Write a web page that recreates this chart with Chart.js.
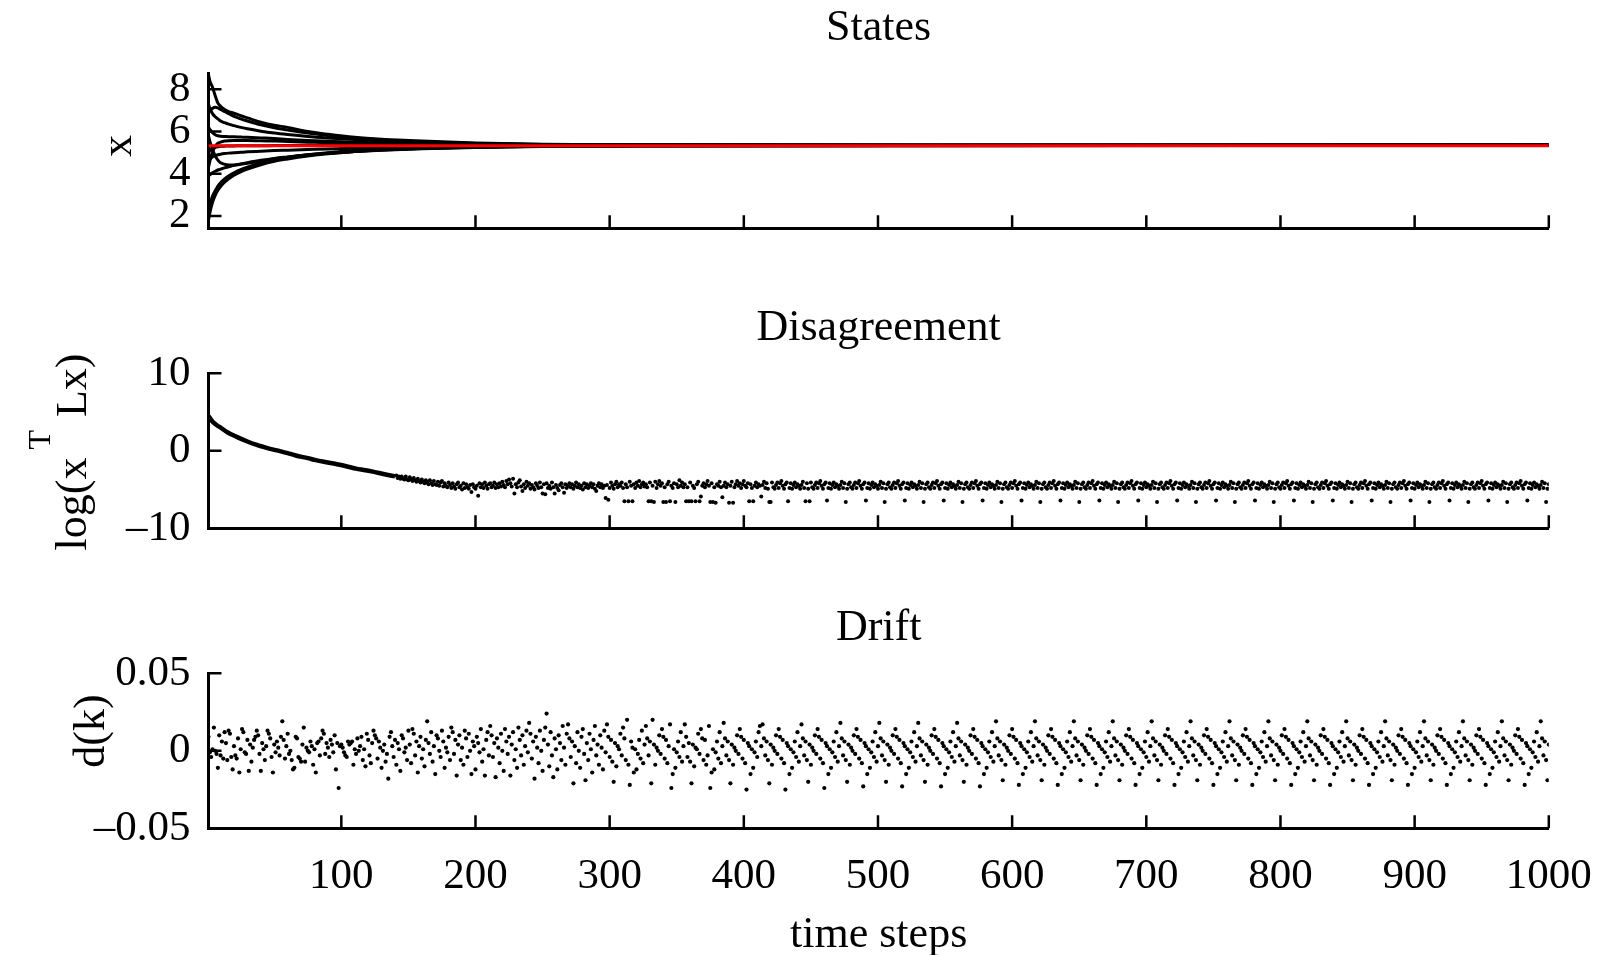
<!DOCTYPE html>
<html>
<head>
<meta charset="utf-8">
<title>States / Disagreement / Drift</title>
<script src="https://cdn.jsdelivr.net/npm/chart.js@4.4.1/dist/chart.umd.min.js"></script>
<style>
  html, body { margin: 0; padding: 0; background: #fff; overflow: hidden; }
  #wrap { position: relative; width: 1603px; height: 955px; overflow: hidden; }
  canvas { position: absolute; left: 0; }
</style>
</head>
<body>
<div id="wrap">
  <canvas id="states" width="1603" height="300" style="top:0px"></canvas>
  <canvas id="disagree" width="1603" height="300" style="top:300px"></canvas>
  <canvas id="drift" width="1603" height="400" style="top:600px"></canvas>
</div>
<script>
const FONT = 'Liberation Serif';

// shared time axis
const xTicks = [100, 200, 300, 400, 500, 600, 700, 800, 900, 1000];
const xTickLabels = ['100', '200', '300', '400', '500', '600', '700', '800', '900', '1000'];

// ---- States: agent trajectories, sampled at these steps ----
const stateSteps = [1, 2, 4, 6, 8, 10, 13, 16, 20, 25, 30, 40, 50, 60, 75, 90, 110, 130, 160, 200, 250, 320, 1000];
const agent1  = [8.7, 8.4, 8.1, 7.7, 7.35, 7.2, 7.05, 6.95, 6.87, 6.75, 6.65, 6.45, 6.3, 6.2, 6.0, 5.87, 5.73, 5.64, 5.55, 5.46, 5.4, 5.37, 5.35];
const agent2  = [6.9, 7.0, 7.1, 7.15, 7.12, 7.05, 6.95, 6.85, 6.72, 6.6, 6.5, 6.32, 6.18, 6.08, 5.93, 5.82, 5.7, 5.61, 5.52, 5.44, 5.39, 5.36, 5.35];
const agent3  = [7.3, 7.1, 6.85, 6.7, 6.6, 6.5, 6.42, 6.35, 6.28, 6.2, 6.13, 6.02, 5.93, 5.86, 5.77, 5.7, 5.62, 5.56, 5.49, 5.43, 5.38, 5.36, 5.35];
const agent4  = [6.2, 6.1, 5.95, 5.85, 5.8, 5.78, 5.77, 5.76, 5.75, 5.74, 5.73, 5.7, 5.67, 5.63, 5.58, 5.54, 5.5, 5.47, 5.43, 5.4, 5.37, 5.36, 5.35];
const agent5  = [5.8, 5.55, 5.15, 4.85, 4.65, 4.52, 4.45, 4.42, 4.42, 4.45, 4.5, 4.6, 4.7, 4.78, 4.88, 4.97, 5.06, 5.13, 5.2, 5.26, 5.3, 5.33, 5.35];
const agent6  = [4.3, 4.6, 5.05, 5.3, 5.45, 5.5, 5.55, 5.57, 5.58, 5.58, 5.58, 5.56, 5.55, 5.53, 5.5, 5.47, 5.44, 5.42, 5.4, 5.38, 5.36, 5.35, 5.35];
const agent7  = [5.0, 5.1, 5.2, 5.25, 5.28, 5.3, 5.31, 5.32, 5.32, 5.33, 5.33, 5.33, 5.34, 5.34, 5.34, 5.34, 5.34, 5.34, 5.35, 5.35, 5.35, 5.35, 5.35];
const agent8  = [4.65, 4.7, 4.8, 4.86, 4.9, 4.93, 4.96, 4.98, 5.0, 5.02, 5.04, 5.07, 5.1, 5.12, 5.15, 5.18, 5.21, 5.24, 5.27, 5.29, 5.31, 5.33, 5.35];
const agent9  = [3.9, 3.95, 4.05, 4.12, 4.18, 4.22, 4.28, 4.33, 4.4, 4.47, 4.53, 4.64, 4.73, 4.8, 4.9, 4.98, 5.06, 5.12, 5.19, 5.25, 5.29, 5.32, 5.35];
const agent10 = [2.3, 2.55, 2.95, 3.2, 3.42, 3.58, 3.76, 3.9, 4.05, 4.2, 4.32, 4.52, 4.66, 4.77, 4.9, 5.0, 5.1, 5.17, 5.23, 5.28, 5.31, 5.33, 5.35];
const agent11 = [1.8, 2.15, 2.65, 2.98, 3.22, 3.4, 3.6, 3.76, 3.93, 4.09, 4.22, 4.43, 4.59, 4.7, 4.84, 4.95, 5.06, 5.14, 5.21, 5.27, 5.3, 5.33, 5.35];
const meanSteps = [1, 1000];
const meanVals = [5.33, 5.33];
const statesYTicks = [2, 4, 6, 8];
const statesYLabels = ['2', '4', '6', '8'];

// ---- Disagreement log(x'Lx) ----
// smooth start, drawn as a line
const disCurveSteps = [1, 3, 5, 8, 10, 15, 22, 30, 37, 45, 52, 60, 66, 75, 81, 90, 96, 105, 111, 118, 125, 133, 140];
const disCurveVals = [4.5, 4.0, 3.6, 3.2, 3.0, 2.4, 1.8, 1.2, 0.75, 0.35, 0.05, -0.3, -0.6, -0.95, -1.2, -1.5, -1.7, -2.05, -2.3, -2.5, -2.75, -3.05, -3.3];
// one dot per step from step 141 on
const disDotStart = 141;
const disagreement = [
  -3.2,-3.5,-3.3,-3.6,-3.3,-3.6,-3.7,-3.3,-3.7,-3.8,-3.4,-3.7,-3.9,-3.5,-3.8,-4.0,-3.6,-3.9,-4.1,-3.7,-4.0,-4.2,-3.8,-4.1,-4.3,-3.8,-4.2,-4.4,-3.9,-4.3,
  -4.4,-4.0,-4.5,-4.1,-3.9,-4.6,-4.2,-4.5,-4.7,-4.1,-4.4,-4.8,-4.2,-4.6,-4.9,-4.3,-4.1,-4.7,-4.5,-5.0,-4.2,-4.8,-4.3,-4.7,-4.9,-4.4,-5.3,-4.3,-4.7,-4.9,
  -4.5,-5.8,-4.2,-4.7,-4.3,-4.8,-4.1,-4.5,-4.9,-4.3,-4.2,-4.7,-4.5,-4.1,-4.8,-4.3,-4.7,-4.2,-4.6,-4.0,-4.4,-4.7,-3.9,-4.3,-3.7,-4.2,-4.6,-3.6,-5.5,-4.3,
  -4.7,-4.1,-3.8,-4.6,-5.2,-4.3,-4.8,-4.0,-4.5,-4.2,-4.9,-4.4,-4.7,-5.0,-4.2,-4.5,-4.8,-4.1,-4.7,-5.5,-4.3,-5.6,-4.2,-4.8,-4.5,-4.9,-4.1,-4.7,-5.5,-4.4,
  -4.8,-5.1,-4.4,-4.2,-4.7,-5.4,-4.3,-4.8,-4.5,-4.2,-4.7,-4.3,-4.9,-4.5,-4.1,-4.7,-4.3,-4.8,-4.5,-5.0,-4.2,-4.7,-4.3,-4.8,-4.5,-4.2,-4.7,-4.3,-4.9,-5.2,-4.5,-4.2,-4.7,-4.3,-4.8,-4.5,-6.1,
  -4.4,-6.3,-4.8,-4.1,-4.5,-4.9,-4.3,-4.0,-4.7,-4.3,-4.5,-4.1,-4.8,-6.5,-4.3,-4.7,-6.5,-4.0,-4.5,-6.5,-4.3,-4.8,-4.1,-4.5,-3.9,-4.7,-4.3,-4.1,-4.6,
  -4.3,-4.7,-6.5,-4.1,-6.5,-4.5,-6.6,-4.0,-4.8,-4.3,-3.9,-4.5,-4.2,-6.6,-4.7,-6.6,-4.3,-4.0,-6.5,-4.5,-4.8,-4.2,-6.6,-4.3,-4.7,-3.8,-4.5,-4.1,-4.7,
  -4.3,-6.5,-4.7,-6.5,-4.1,-6.5,-4.5,-4.8,-6.5,-4.3,-4.0,-6.5,-5.9,-4.5,-4.2,-4.7,-4.3,-3.9,-4.5,-6.6,-4.2,-6.6,-4.7,-6.7,-4.3,-4.5,-4.0,-4.7,-6.0,
  -4.5,-4.1,-4.7,-4.3,-6.7,-4.5,-4.0,-6.7,-4.7,-4.3,-3.9,-4.5,-4.2,-4.8,-4.3,-3.9,-4.5,-4.7,-4.2,-6.5,-4.3,-4.8,-6.5,-4.5,-4.1,-4.7,-4.3,-4.5,-5.9,
  -4.4,-4.0,-4.8,-4.2,-4.9,-6.6,-6.6,-4.1,-4.7,-4.9,-4.4,-4.1,-4.8,-4.2,-3.9,-4.5,-4.9,-4.3,-4.1,-6.5,-4.8,-4.2,-4.9,-4.4,-4.1,-4.7,-4.3,-4.5,-4.9,
  -4.4,-4.0,-4.8,-6.5,-4.2,-4.9,-6.5,-4.1,-4.7,-4.9,-4.4,-4.1,-4.8,-4.2,-3.9,-4.5,-4.9,-4.3,-4.1,-6.4,-4.8,-4.2,-4.9,-4.4,-4.1,-4.7,-4.3,-4.5,-4.9,
  -4.4,-4.0,-4.8,-4.2,-6.6,-4.9,-4.3,-4.1,-4.7,-4.9,-4.4,-4.1,-4.8,-4.2,-3.9,-4.5,-4.9,-4.3,-4.1,-6.4,-4.8,-4.2,-4.9,-4.4,-4.1,-4.7,-4.3,-4.5,-4.9,
  -4.4,-4.0,-4.8,-4.2,-6.6,-4.9,-4.3,-4.1,-4.7,-4.9,-4.4,-4.1,-4.8,-4.2,-3.9,-4.5,-4.9,-4.3,-4.1,-6.4,-4.8,-4.2,-4.9,-4.4,-4.1,-4.7,-4.3,-4.5,-4.9,
  -4.4,-4.0,-4.8,-4.2,-6.6,-4.9,-4.3,-4.1,-4.7,-4.9,-4.4,-4.1,-4.8,-4.2,-3.9,-4.5,-4.9,-4.3,-4.1,-6.4,-4.8,-4.2,-4.9,-4.4,-4.1,-4.7,-4.3,-4.5,-4.9,
  -4.4,-4.0,-4.8,-4.2,-6.6,-4.9,-4.3,-4.1,-4.7,-4.9,-4.4,-4.1,-4.8,-4.2,-3.9,-4.5,-4.9,-4.3,-4.1,-6.4,-4.8,-4.2,-4.9,-4.4,-4.1,-4.7,-4.3,-4.5,-4.9,
  -4.4,-4.0,-4.8,-4.2,-6.6,-4.9,-4.3,-4.1,-4.7,-4.9,-4.4,-4.1,-4.8,-4.2,-3.9,-4.5,-4.9,-4.3,-4.1,-6.4,-4.8,-4.2,-4.9,-4.4,-4.1,-4.7,-4.3,-4.5,-4.9,
  -4.4,-4.0,-4.8,-4.2,-6.6,-4.9,-4.3,-4.1,-4.7,-4.9,-4.4,-4.1,-4.8,-4.2,-3.9,-4.5,-4.9,-4.3,-4.1,-6.4,-4.8,-4.2,-4.9,-4.4,-4.1,-4.7,-4.3,-4.5,-4.9,
  -4.4,-4.0,-4.8,-4.2,-6.6,-4.9,-4.3,-4.1,-4.7,-4.9,-4.4,-4.1,-4.8,-4.2,-3.9,-4.5,-4.9,-4.3,-4.1,-6.4,-4.8,-4.2,-4.9,-4.4,-4.1,-4.7,-4.3,-4.5,-4.9,
  -4.4,-4.0,-4.8,-4.2,-6.6,-4.9,-4.3,-4.1,-4.7,-4.9,-4.4,-4.1,-4.8,-4.2,-3.9,-4.5,-4.9,-4.3,-4.1,-6.4,-4.8,-4.2,-4.9,-4.4,-4.1,-4.7,-4.3,-4.5,-4.9,
  -4.4,-4.0,-4.8,-4.2,-6.6,-4.9,-4.3,-4.1,-4.7,-4.9,-4.4,-4.1,-4.8,-4.2,-3.9,-4.5,-4.9,-4.3,-4.1,-6.4,-4.8,-4.2,-4.9,-4.4,-4.1,-4.7,-4.3,-4.5,-4.9,
  -4.4,-4.0,-4.8,-4.2,-6.6,-4.9,-4.3,-4.1,-4.7,-4.9,-4.4,-4.1,-4.8,-4.2,-3.9,-4.5,-4.9,-4.3,-4.1,-6.4,-4.8,-4.2,-4.9,-4.4,-4.1,-4.7,-4.3,-4.5,-4.9,
  -4.4,-4.0,-4.8,-4.2,-6.6,-4.9,-4.3,-4.1,-4.7,-4.9,-4.4,-4.1,-4.8,-4.2,-3.9,-4.5,-4.9,-4.3,-4.1,-6.4,-4.8,-4.2,-4.9,-4.4,-4.1,-4.7,-4.3,-4.5,-4.9,
  -4.4,-4.0,-4.8,-4.2,-6.6,-4.9,-4.3,-4.1,-4.7,-4.9,-4.4,-4.1,-4.8,-4.2,-3.9,-4.5,-4.9,-4.3,-4.1,-6.4,-4.8,-4.2,-4.9,-4.4,-4.1,-4.7,-4.3,-4.5,-4.9,
  -4.4,-4.0,-4.8,-4.2,-6.6,-4.9,-4.3,-4.1,-4.7,-4.9,-4.4,-4.1,-4.8,-4.2,-3.9,-4.5,-4.9,-4.3,-4.1,-6.4,-4.8,-4.2,-4.9,-4.4,-4.1,-4.7,-4.3,-4.5,-4.9,
  -4.4,-4.0,-4.8,-4.2,-6.6,-4.9,-4.3,-4.1,-4.7,-4.9,-4.4,-4.1,-4.8,-4.2,-3.9,-4.5,-4.9,-4.3,-4.1,-6.4,-4.8,-4.2,-4.9,-4.4,-4.1,-4.7,-4.3,-4.5,-4.9,
  -4.4,-4.0,-4.8,-4.2,-6.6,-4.9,-4.3,-4.1,-4.7,-4.9,-4.4,-4.1,-4.8,-4.2,-3.9,-4.5,-4.9,-4.3,-4.1,-6.4,-4.8,-4.2,-4.9,-4.4,-4.1,-4.7,-4.3,-4.5,-4.9,
  -4.4,-4.0,-4.8,-4.2,-6.6,-4.9,-4.3,-4.1,-4.7,-4.9,-4.4,-4.1,-4.8,-4.2,-3.9,-4.5,-4.9,-4.3,-4.1,-6.4,-4.8,-4.2,-4.9,-4.4,-4.1,-4.7,-4.3,-4.5,-4.9,
  -4.4,-4.0,-4.8,-4.2,-6.6,-4.9,-4.3,-4.1,-4.7,-4.9,-4.4,-4.1,-4.8,-4.2,-3.9,-4.5,-4.9,-4.3,-4.1,-6.4,-4.8,-4.2,-4.9,-4.4,-4.1,-4.7,-4.3,-4.5,-4.9,
  -4.4,-4.0,-4.8,-4.2,-6.6,-4.9,-4.3,-4.1,-4.7,-4.9,-4.4,-4.1,-4.8,-4.2,-3.9,-4.5,-4.9,-4.3,-4.1,-6.4,-4.8,-4.2,-4.9,-4.4,-4.1,-4.7,-4.3,-4.5,-4.9,
  -4.4,-4.0,-4.8,-4.2,-6.6,-4.9,-4.3
];
const disYTicks = [-10, 0, 10];
const disYLabels = ['\u201310', '0', '10'];

// ---- Drift d(k), in units of 1e-3, one value per step 1..1000 ----
const drift = [
  9,-1,-4,1,15,0,-2,
  -11,10,-3,6,-5,12,5,-6,13,11,-4,-12,3,-3,-5,8,-14,1,14,12,-1,-2,7,-13,4,-7,2,7,9,
  13,10,-2,-13,5,1,-6,3,13,11,8,-4,-14,4,-1,6,2,-3,9,19,7,-5,3,11,-2,0,-6,-12,-11,
  9,8,-4,-5,-7,4,15,-7,2,0,-1,6,3,-9,1,-14,5,6,-3,8,13,11,-2,5,2,-4,7,4,-1,
  10,-12,5,-24,3,4,2,-1,-3,-4,6,4,5,6,-9,1,-2,8,0,3,9,-6,1,-10,11,7,-3,-8,5,
  13,10,8,-5,6,2,-11,0,4,-7,-2,-18,9,12,3,-4,7,-9,5,1,-13,10,8,-1,2,-6,13,4,-8,
  14,11,-3,6,-14,3,9,-5,1,-10,7,19,5,-2,12,-7,3,-15,10,8,0,-4,13,6,-11,2,-1,9,-6,
  15,12,-2,7,-16,4,10,-6,2,-9,13,8,-4,11,0,-15,6,3,-12,9,5,-1,14,-7,1,-16,7,12,-3,
  16,10,-4,5,-17,8,2,-8,11,0,-13,14,6,-2,9,-16,4,12,-6,1,-11,15,7,-3,10,-9,3,13,-1,
  18,11,-5,6,-18,9,2,-8,13,0,-13,7,15,24,4,-10,12,-3,-17,8,1,-12,10,5,-6,16,2,-9,11,
  17,8,-4,6,-21,3,-8,12,0,-11,9,14,-2,-19,5,-6,11,1,-14,7,16,-3,4,-9,10,2,-12,13,-1,
  17,9,-4,7,-7,-20,5,-10,3,1,11,-3,15,8,-6,20,-9,-22,6,2,-14,1,-12,-2,7,-5,13,-8,4,
  16,8,-3,6,-21,20,4,-9,2,0,10,-2,14,9,-5,7,-8,3,17,-24,-15,1,-11,-1,6,-4,12,-7,3,
  17,9,-4,5,-7,-21,4,-10,2,1,11,-2,14,8,-6,7,-9,-3,16,-24,-14,1,-12,-1,6,-5,12,-8,3,
  18,8,-3,6,-6,-21,4,-9,2,0,10,-2,14,9,-5,7,-8,-25,5,3,-15,1,-11,-1,6,-4,12,16,3,
  17,8,-3,6,-6,-21,4,-9,2,0,10,-2,14,9,-5,7,-8,-25,5,3,-15,1,-11,-1,6,-4,12,-7,3,
  17,8,-3,6,-6,-20,4,-9,2,0,10,-2,14,9,-5,7,-8,-24,5,3,-15,1,-11,-1,6,-4,12,-7,3,
  18,8,-3,6,-6,-20,4,-9,2,0,10,-2,14,9,-5,7,-8,-23,5,3,-15,1,-11,-1,6,-4,12,-7,3,
  18,8,-3,6,-6,-20,4,-9,2,0,10,-2,14,9,-5,7,-8,-23,5,3,-15,1,-11,-1,6,-4,12,-7,3,
  18,8,-3,6,-6,-20,4,-9,2,0,10,-2,14,9,-5,7,-8,-23,5,3,-15,1,-11,-1,6,-4,12,-7,3,
  18,8,-3,6,-6,-20,4,-9,2,0,10,-2,14,9,-5,7,-8,-23,5,3,-15,1,-11,-1,6,-4,12,-7,3,
  19,8,-3,6,-6,-19,4,-9,2,0,10,-2,14,9,-5,7,-8,-22,5,3,-15,1,-11,-1,6,-4,12,-7,3,
  19,8,-3,6,-6,-19,4,-9,2,0,10,-2,14,9,-5,7,-8,-22,5,3,-15,1,-11,-1,6,-4,12,-7,3,
  19,8,-3,6,-6,-19,4,-9,2,0,10,-2,14,9,-5,7,-8,-22,5,3,-15,1,-11,-1,6,-4,12,-7,3,
  19,8,-3,6,-6,-19,4,-9,2,0,10,-2,14,9,-5,7,-8,-22,5,3,-15,1,-11,-1,6,-4,12,-7,3,
  19,8,-3,6,-6,-19,4,-9,2,0,10,-2,14,9,-5,7,-8,-22,5,3,-15,1,-11,-1,6,-4,12,-7,3,
  19,8,-3,6,-6,-19,4,-9,2,0,10,-2,14,9,-5,7,-8,-22,5,3,-15,1,-11,-1,6,-4,12,-7,3,
  19,8,-3,6,-6,-19,4,-9,2,0,10,-2,14,9,-5,7,-8,-22,5,3,-15,1,-11,-1,6,-4,12,-7,3,
  19,8,-3,6,-6,-19,4,-9,2,0,10,-2,14,9,-5,7,-8,-22,5,3,-15,1,-11,-1,6,-4,12,-7,3,
  19,8,-3,6,-6,-19,4,-9,2,0,10,-2,14,9,-5,7,-8,-22,5,3,-15,1,-11,-1,6,-4,12,-7,3,
  19,8,-3,6,-6,-19,4,-9,2,0,10,-2,14,9,-5,7,-8,-22,5,3,-15,1,-11,-1,6,-4,12,-7,3,
  19,8,-3,6,-6,-19,4,-9,2,0,10,-2,14,9,-5,7,-8,-22,5,3,-15,1,-11,-1,6,-4,12,-7,3,
  19,8,-3,6,-6,-19,4,-9,2,0,10,-2,14,9,-5,7,-8,-22,5,3,-15,1,-11,-1,6,-4,12,-7,3,
  19,8,-3,6,-6,-19,4,-9,2,0,10,-2,14,9,-5,7,-8,-22,5,3,-15,1,-11,-1,6,-4,12,-7,3,
  19,8,-3,6,-6,-19,4,-9,2,0,10,-2,14,9,-5,7,-8,-22,5,3,-15,1,-11,-1,6,-4,12,-7,3,
  19,8,-3,6,-6,-19,4
];
const driftYTicks = [-50, 0, 50];
const driftYLabels = ['\u20130.05', '0', '0.05'];

// plot box, same for all three panels (canvas pixels)
const PLOT_LEFT = 208.5;
const PLOT_RIGHT = 1548.8;
const PLOT_TOP = 73.3;
const PLOT_BOTTOM = 228.3;

// ticks point into the plot, drawn over the data
const inwardTicks = {
  id: 'inwardTicks',
  afterDatasetsDraw(chart) {
    const { ctx, chartArea: a, scales: { x, y } } = chart;
    ctx.save();
    ctx.strokeStyle = '#000';
    ctx.lineWidth = 2.5;
    ctx.beginPath();
    x.ticks.forEach((t) => {
      const px = x.getPixelForValue(t.value);
      ctx.moveTo(px, a.bottom);
      ctx.lineTo(px, a.bottom - 13);
    });
    y.ticks.forEach((t) => {
      const py = y.getPixelForValue(t.value);
      ctx.moveTo(a.left, py);
      ctx.lineTo(a.left + 13, py);
    });
    ctx.stroke();
    ctx.restore();
  }
};

// panel title above the plot and the rotated y label (parts allow the raised T)
function panelText(title, parts, baseX, centerY) {
  return {
    id: 'panelText',
    afterDraw(chart) {
      const { ctx, chartArea: a } = chart;
      ctx.save();
      ctx.fillStyle = '#000';
      ctx.font = '44px "' + FONT + '"';
      ctx.textAlign = 'center';
      ctx.textBaseline = 'middle';
      ctx.fillText(title, (a.left + a.right) / 2, a.top - 45);

      ctx.translate(baseX, centerY);
      ctx.rotate(-Math.PI / 2);
      ctx.textAlign = 'left';
      ctx.textBaseline = 'alphabetic';
      let total = 0;
      parts.forEach((p) => {
        ctx.font = p.size + 'px "' + FONT + '"';
        total += ctx.measureText(p.text).width + (p.gap || 0);
      });
      let pos = -total / 2;
      parts.forEach((p) => {
        ctx.font = p.size + 'px "' + FONT + '"';
        pos += p.gap || 0;
        ctx.fillText(p.text, pos, -(p.rise || 0));
        pos += ctx.measureText(p.text).width;
      });
      ctx.restore();
    }
  };
}

function makePanel(id, datasets, yMin, yMax, yTicks, yLabels, textPlugin, showX, canvasH) {
  const xHeight = showX ? 140 : 0;
  return new Chart(document.getElementById(id), {
    type: 'scatter',
    data: { datasets: datasets },
    options: {
      responsive: false,
      animation: false,
      devicePixelRatio: 1,
      events: [],
      layout: {
        padding: { left: 0, right: 1603 - PLOT_RIGHT, top: PLOT_TOP, bottom: canvasH - PLOT_BOTTOM - xHeight }
      },
      plugins: { legend: { display: false }, tooltip: { enabled: false } },
      scales: {
        x: {
          type: 'linear',
          min: 1,
          max: 1000,
          grid: { display: false, drawTicks: false },
          border: { display: true, width: 3, color: '#000' },
          ticks: {
            display: showX,
            autoSkip: false,
            maxRotation: 0,
            padding: 23,
            color: '#000',
            font: { family: FONT, size: 43 },
            callback: (v) => xTickLabels[xTicks.indexOf(v)]
          },
          title: {
            display: showX,
            text: 'time steps',
            color: '#000',
            font: { family: FONT, size: 44 },
            padding: { top: 0, bottom: 6 }
          },
          afterBuildTicks: (s) => { s.ticks = xTicks.map((v) => ({ value: v })); },
          afterFit: (s) => {
            s.height = xHeight;
            s.paddingLeft = 0;
            s.paddingRight = 0;
          }
        },
        y: {
          type: 'linear',
          min: yMin,
          max: yMax,
          grid: { display: false, drawTicks: false },
          border: { display: true, width: 3, color: '#000' },
          ticks: {
            autoSkip: false,
            padding: 18,
            color: '#000',
            font: { family: FONT, size: 43 },
            callback: (v) => yLabels[yTicks.indexOf(v)]
          },
          afterBuildTicks: (s) => { s.ticks = yTicks.map((v) => ({ value: v })); },
          afterFit: (s) => {
            s.width = PLOT_LEFT;
            s.paddingTop = 0;
            s.paddingBottom = 0;
          }
        }
      }
    },
    plugins: [inwardTicks, textPlugin]
  });
}

function pts(xs, ys) {
  return xs.map((x, i) => ({ x: x, y: ys[i] }));
}

// States
const agents = [agent1, agent2, agent3, agent4, agent5, agent6, agent7, agent8, agent9, agent10, agent11];
const stateSets = [{
  data: pts(meanSteps, meanVals),
  showLine: true,
  borderColor: '#ff0000',
  borderWidth: 3,
  pointRadius: 0
}];
agents.forEach((vals) => {
  stateSets.push({
    data: pts(stateSteps, vals),
    showLine: true,
    borderColor: '#000',
    borderWidth: 3,
    pointRadius: 0,
    cubicInterpolationMode: 'monotone'
  });
});
makePanel('states', stateSets, 1.42, 8.76, statesYTicks, statesYLabels,
  panelText('States', [{ text: 'x', size: 44 }], 131, 146), false, 300);

// Disagreement
makePanel('disagree', [
  {
    data: pts(disCurveSteps, disCurveVals),
    showLine: true,
    borderColor: '#000',
    borderWidth: 4.5,
    pointRadius: 0,
    cubicInterpolationMode: 'monotone'
  },
  {
    data: disagreement.map((v, i) => ({ x: disDotStart + i, y: v })),
    pointRadius: 2,
    pointBackgroundColor: '#000',
    pointBorderWidth: 0
  }
], -10, 10, disYTicks, disYLabels,
  panelText('Disagreement', [
    { text: 'log(x', size: 44 },
    { text: 'T', size: 32, rise: 36, gap: 8 },
    { text: ' Lx)', size: 44, gap: 2 }
  ], 86, 152), false, 300);

// Drift
makePanel('drift', [{
  data: drift.map((v, i) => ({ x: i + 1, y: v })),
  pointRadius: 2.1,
  pointBackgroundColor: '#000',
  pointBorderWidth: 0
}], -50, 50, driftYTicks, driftYLabels,
  panelText('Drift', [{ text: 'd(k)', size: 44 }], 104, 131), true, 400);
</script>
</body>
</html>
